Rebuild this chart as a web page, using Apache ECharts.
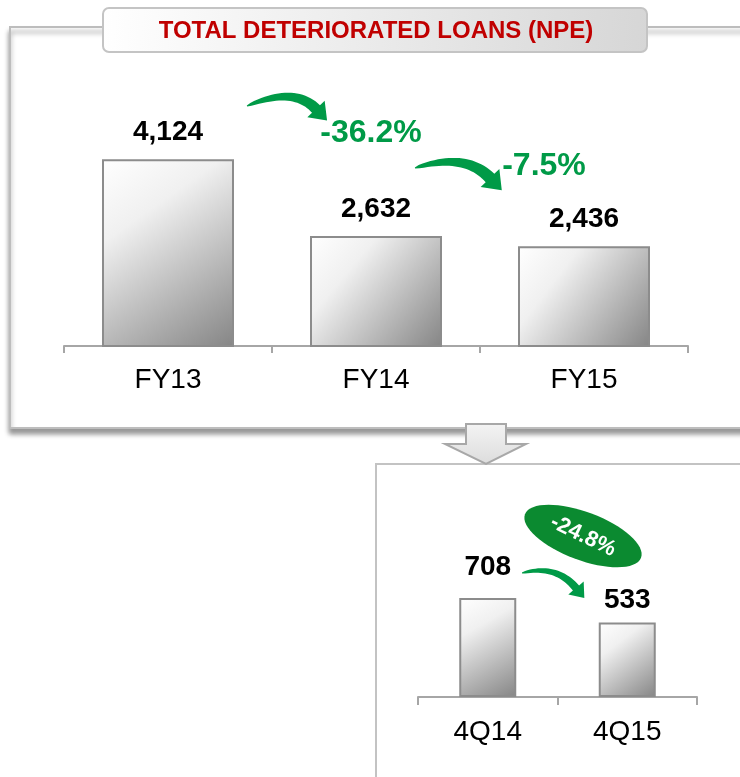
<!DOCTYPE html>
<html>
<head>
<meta charset="utf-8">
<title>Total deteriorated loans (NPE)</title>
<script src="https://cdn.jsdelivr.net/npm/echarts@6/dist/echarts.min.js"></script>
<style>
  html, body { margin: 0; padding: 0; background: #fff; }
  #chart { width: 740px; height: 777px; }
</style>
</head>
<body>
<div id="chart"></div>
<script>
// yearly figures
const yearCategories = ['FY13', 'FY14', 'FY15'];
const yearValues = [4124, 2632, 2436];
const yearChanges = ['-36.2%', '-7.5%'];

// quarterly figures
const quarterCategories = ['4Q14', '4Q15'];
const quarterValues = [708, 533];
const quarterChange = '-24.8%';

const titleText = 'TOTAL DETERIORATED LOANS (NPE)';

const FONT = '"Liberation Sans", Arial, sans-serif';
const GREEN = '#009a47';

const barFill = new echarts.graphic.LinearGradient(0, 0, 1, 1, [
  { offset: 0, color: '#ffffff' },
  { offset: 0.3, color: '#f0f0f0' },
  { offset: 1, color: '#858585' }
]);

// tapered curved arrow (decoration only)
function curveArrow(p0, c, p1, w, headLen, headHalf) {
  const n = 24;
  const left = [];
  const right = [];
  for (let i = 0; i <= n; i++) {
    const t = i / n;
    const x = (1 - t) * (1 - t) * p0[0] + 2 * (1 - t) * t * c[0] + t * t * p1[0];
    const y = (1 - t) * (1 - t) * p0[1] + 2 * (1 - t) * t * c[1] + t * t * p1[1];
    let dx = 2 * (1 - t) * (c[0] - p0[0]) + 2 * t * (p1[0] - c[0]);
    let dy = 2 * (1 - t) * (c[1] - p0[1]) + 2 * t * (p1[1] - c[1]);
    const len = Math.hypot(dx, dy);
    dx /= len; dy /= len;
    const half = (w / 2) * (0.1 + 0.9 * Math.sqrt(t));
    left.push([x + dy * half, y - dx * half]);
    right.push([x - dy * half, y + dx * half]);
  }
  let ex = p1[0] - c[0], ey = p1[1] - c[1];
  const el = Math.hypot(ex, ey);
  ex /= el; ey /= el;
  const head = [
    [p1[0] + ey * headHalf, p1[1] - ex * headHalf],
    [p1[0] + ex * headLen, p1[1] + ey * headLen],
    [p1[0] - ey * headHalf, p1[1] + ex * headHalf]
  ];
  return {
    type: 'polygon',
    z: 20,
    shape: { points: left.concat(head, right.reverse()) },
    style: { fill: GREEN }
  };
}

const chart = echarts.init(document.getElementById('chart'), null, { renderer: 'canvas' });

const labelStyle = {
  show: true,
  position: 'top',
  fontFamily: FONT,
  fontSize: 28,
  fontWeight: 'bold',
  color: '#000',
  formatter: (p) => p.value.toLocaleString('en-US')
};

const option = {
  backgroundColor: '#fff',
  animation: false,
  grid: [
    { left: 64, right: 52, top: 114, bottom: 431 },
    { left: 418, right: 43, top: 557, bottom: 80 }
  ],
  xAxis: [
    {
      type: 'category',
      gridIndex: 0,
      data: yearCategories,
      axisLine: { lineStyle: { color: '#a6a6a6', width: 2 } },
      axisTick: { show: true, length: 7, lineStyle: { color: '#a6a6a6', width: 2 } },
      axisLabel: { margin: 20, fontFamily: FONT, fontSize: 28, color: '#000' }
    },
    {
      type: 'category',
      gridIndex: 1,
      data: quarterCategories,
      axisLine: { lineStyle: { color: '#a6a6a6', width: 2 } },
      axisTick: { show: true, length: 8, lineStyle: { color: '#a6a6a6', width: 2 } },
      axisLabel: { margin: 21, fontFamily: FONT, fontSize: 28, color: '#000' }
    }
  ],
  yAxis: [
    { type: 'value', gridIndex: 0, min: 500, max: 5000, show: false },
    { type: 'value', gridIndex: 1, min: 0, max: 1000, show: false }
  ],
  series: [
    {
      type: 'bar',
      xAxisIndex: 0,
      yAxisIndex: 0,
      barWidth: 132,
      data: yearValues,
      itemStyle: { color: barFill, borderColor: '#8c8c8c', borderWidth: 2 },
      label: Object.assign({}, labelStyle, { distance: 13 })
    },
    {
      type: 'bar',
      xAxisIndex: 1,
      yAxisIndex: 1,
      barWidth: 57,
      data: quarterValues.map((v, i) => ({
        value: v,
        label: { distance: i === 0 ? 17 : 8 }
      })),
      itemStyle: { color: barFill, borderColor: '#8c8c8c', borderWidth: 2 },
      label: Object.assign({}, labelStyle)
    }
  ],
  graphic: [
    // top panel frame
    {
      type: 'rect',
      z: -1,
      shape: { x: 10, y: 27, width: 770, height: 401 },
      style: {
        fill: '#fff',
        stroke: '#bdbdbd',
        lineWidth: 2,
        shadowColor: 'rgba(0,0,0,0.4)',
        shadowBlur: 5,
        shadowOffsetY: 5
      }
    },
    // bottom panel frame
    {
      type: 'rect',
      z: -1,
      shape: { x: 376, y: 464, width: 400, height: 400 },
      style: { fill: '#fff', stroke: '#c3c3c3', lineWidth: 2 }
    },
    // title box
    {
      type: 'rect',
      z: 5,
      shape: { x: 103, y: 8, width: 544, height: 44, r: 6 },
      style: {
        fill: new echarts.graphic.LinearGradient(0, 0, 1, 1, [
          { offset: 0, color: '#ffffff' },
          { offset: 1, color: '#d6d6d6' }
        ]),
        stroke: '#c4c4c4',
        lineWidth: 2
      }
    },
    {
      type: 'text',
      z: 6,
      x: 376,
      y: 31,
      style: {
        text: titleText,
        fontFamily: FONT,
        fontSize: 24,
        fontWeight: 'bold',
        fill: '#c00000',
        align: 'center',
        verticalAlign: 'middle'
      }
    },
    // down arrow between panels
    {
      type: 'polygon',
      z: 8,
      shape: {
        points: [[466, 424], [506, 424], [506, 444], [526, 444], [486, 464], [445, 444], [466, 444]]
      },
      style: {
        fill: new echarts.graphic.LinearGradient(0, 0, 0, 1, [
          { offset: 0, color: '#f4f4f4' },
          { offset: 1, color: '#dcdcdc' }
        ]),
        stroke: '#a8a8a8',
        lineWidth: 2
      }
    },
    // change arrows
    curveArrow([247, 106], [294, 86], [316, 109], 11, 16, 12),
    curveArrow([415, 168], [465, 152], [490, 178], 12, 17, 13),
    curveArrow([522, 573], [556, 564], [576, 588], 8, 13, 10),
    {
      type: 'text',
      z: 20,
      x: 371,
      y: 133,
      style: {
        text: yearChanges[0],
        fontFamily: FONT,
        fontSize: 32,
        fontWeight: 'bold',
        fill: GREEN,
        align: 'center',
        verticalAlign: 'middle'
      }
    },
    {
      type: 'text',
      z: 20,
      x: 544,
      y: 166,
      style: {
        text: yearChanges[1],
        fontFamily: FONT,
        fontSize: 32,
        fontWeight: 'bold',
        fill: GREEN,
        align: 'center',
        verticalAlign: 'middle'
      }
    },
    // quarterly change badge
    {
      type: 'ellipse',
      z: 20,
      x: 583,
      y: 536,
      rotation: -0.36,
      shape: { cx: 0, cy: 0, rx: 62, ry: 24 },
      style: { fill: '#0b8a30' }
    },
    {
      type: 'text',
      z: 21,
      x: 583,
      y: 536,
      rotation: -0.45,
      style: {
        text: quarterChange,
        fontFamily: FONT,
        fontSize: 22,
        fontWeight: 'bold',
        fill: '#fff',
        align: 'center',
        verticalAlign: 'middle'
      }
    }
  ]
};

chart.setOption(option);
window.addEventListener('resize', () => chart.resize());
</script>
</body>
</html>
